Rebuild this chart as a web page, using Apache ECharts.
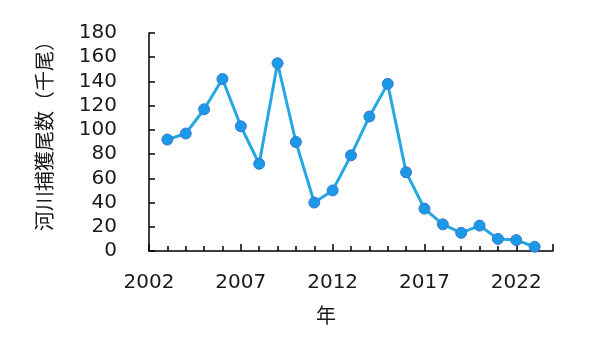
<!DOCTYPE html>
<html><head><meta charset="utf-8">
<script src="https://cdn.jsdelivr.net/npm/echarts@6/dist/echarts.min.js"></script>
<style>html,body{margin:0;padding:0;background:#fff}#c{width:590px;height:357px}</style>
</head><body><div id="c"></div>
<script>
const years = [2003,2004,2005,2006,2007,2008,2009,2010,2011,2012,2013,2014,2015,2016,2017,2018,2019,2020,2021,2022,2023];
const catches = [92,97,117,142,103,72,155,90,40,50,79,111,138,65,35,22,15,21,10,9,3.5];
const yTicks = [0,20,40,60,80,100,120,140,160,180];
const xLabels = [2002,2007,2012,2017,2022];
const yName = '河川捕獲尾数（千尾）';
const xName = '年';

const chart = echarts.init(document.getElementById('c'), null, {renderer:'canvas'});
const txt = '#1a1a1a';
chart.setOption({
  animation:false,
  backgroundColor:'#fff',
  grid:{left:149,right:37,top:33,bottom:106,containLabel:false},
  xAxis:[{type:'value',min:2002,max:2024,interval:1,
    axisLine:{lineStyle:{color:'#000',width:1.5}},
    axisTick:{inside:true,length:5,lineStyle:{color:'#000',width:1.5}},
    splitLine:{show:false},
    axisLabel:{margin:22,fontSize:20,color:txt,fontFamily:'DejaVu Sans',
      formatter:v=>xLabels.indexOf(v)>=0?String(v):''}},
   {type:'value',min:2002,max:2024,interval:5,position:'bottom',
    axisLine:{show:false},
    axisTick:{show:true,inside:true,length:7,lineStyle:{color:'#000',width:1.5}},
    splitLine:{show:false},axisLabel:{show:false}}],
  yAxis:{type:'value',min:yTicks[0],max:yTicks[yTicks.length-1],interval:20,
    axisLine:{show:true,lineStyle:{color:'#000',width:1.5}},
    axisTick:{show:true,inside:true,length:6,lineStyle:{color:'#000',width:1.5}},
    splitLine:{show:false},
    axisLabel:{margin:32,fontSize:20,color:txt,fontFamily:'DejaVu Sans'}},
  graphic:[
    {type:'text',left:316,top:305,style:{text:xName,fontSize:20,fill:txt,fontFamily:'Noto Sans CJK JP'}},
    {type:'text',x:44,y:131,rotation:Math.PI/2,style:{text:yName,fontSize:20,fill:txt,fontFamily:'Noto Sans CJK JP',align:'center',verticalAlign:'middle'}}
  ],
  series:[{type:'line',xAxisIndex:0,data:years.map((y,i)=>[y,catches[i]]),
    symbol:'circle',symbolSize:11,
    lineStyle:{color:'#25a8e2',width:3},
    itemStyle:{color:'#1a9ae6',borderColor:'#3b78d6',borderWidth:1}}]
});
</script></body></html>
